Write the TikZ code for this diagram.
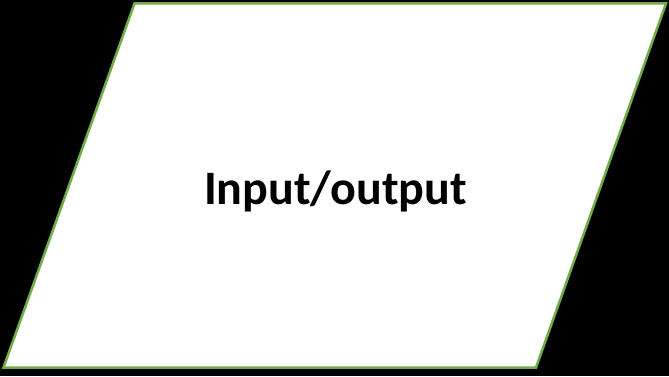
\documentclass[tikz,border=0pt]{standalone}
\usepackage{fontspec}
\setmainfont{Carlito}
\definecolor{boxgreen}{HTML}{70AD47}
\tikzset{
  iobox/.style={draw=boxgreen, line width=2.5pt, fill=white, line join=miter},
  iolabel/.style={font=\bfseries\fontsize{48}{56}\selectfont, text=black, anchor=base}
}
\begin{document}
\begin{tikzpicture}[x=1pt,y=1pt]
  \fill[black] (0,0) rectangle (669,376);
  \useasboundingbox (0,0) rectangle (669,376);
  \coordinate (tl) at (134.5,372.5);
  \coordinate (tr) at (666,372.5);
  \coordinate (br) at (536,8.5);
  \coordinate (bl) at (3.5,8.5);
  \draw[iobox] (tl) -- (tr) -- (br) -- (bl) -- cycle;
  \node[iolabel] (lbl) at (335.5,172) {Input/output};
\end{tikzpicture}
\end{document}
